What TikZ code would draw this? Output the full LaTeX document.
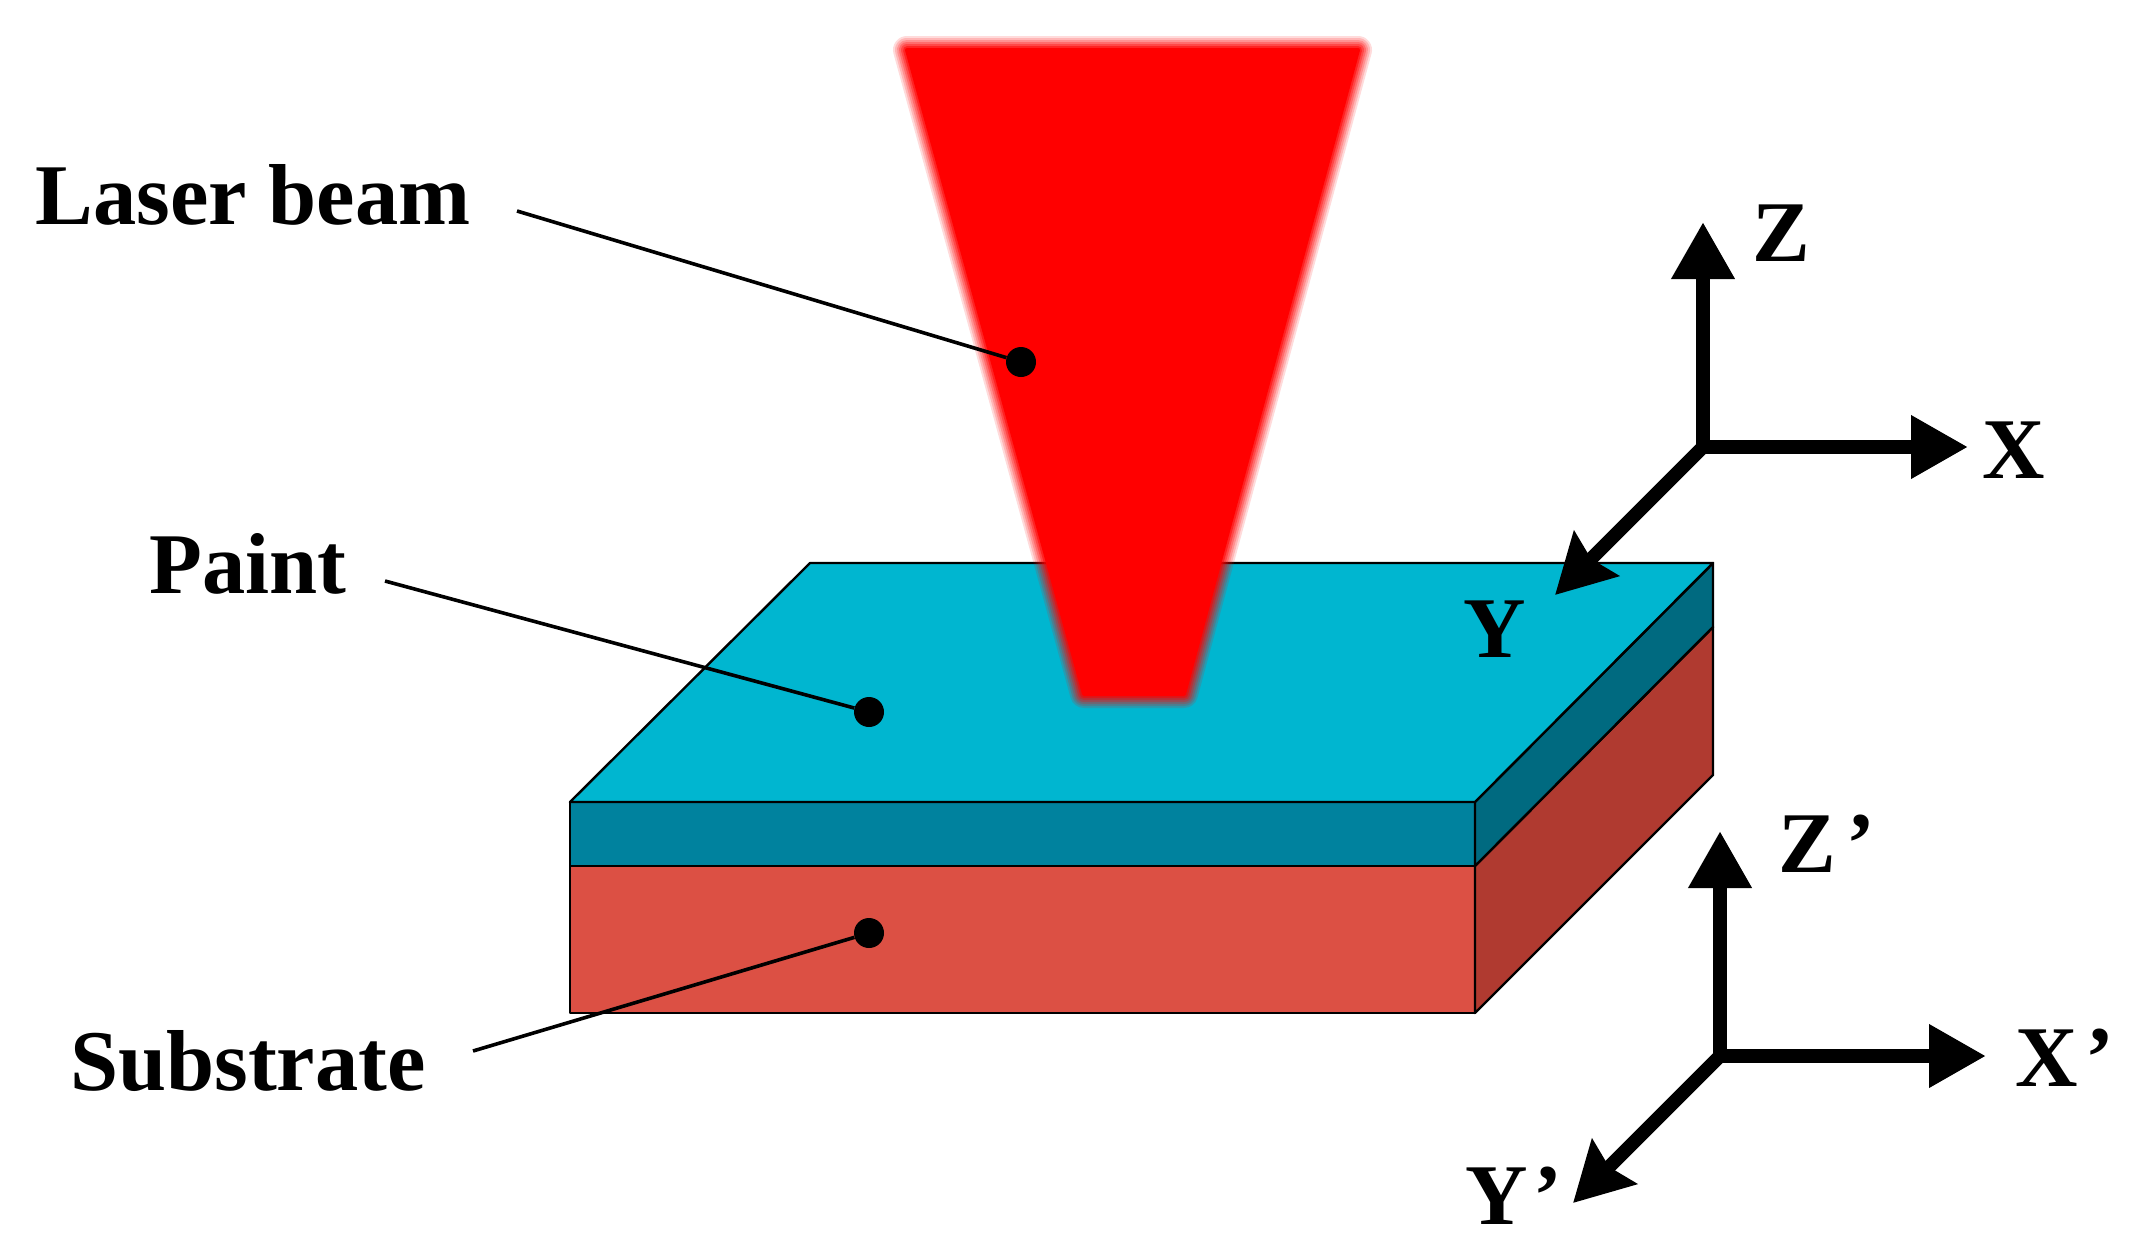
\documentclass[tikz,border=0pt]{standalone}
\usepackage{fontspec}
\setmainfont{Liberation Serif}
\usetikzlibrary{arrows.meta}
\definecolor{paintTop}{HTML}{00B6D0}
\definecolor{paintFront}{HTML}{00829E}
\definecolor{paintSide}{HTML}{006A80}
\definecolor{subFront}{HTML}{DC5044}
\definecolor{subSide}{HTML}{B03A30}
\tikzset{
  lbl/.style={anchor=base,inner sep=0pt,font=\fontsize{86.5}{87}\selectfont\bfseries,text=black},
  face/.style={draw=black,line width=2.4pt,line join=round},
  leader/.style={draw=black,line width=3.6pt},
  dotmark/.style={circle,fill=black,inner sep=0pt,minimum size=30pt},
  axisline/.style={draw=black,line width=13.5pt},
  axisV/.style={axisline,-{Triangle[length=57pt,width=60pt]}},
  axisD/.style={axisline,-{Stealth[length=58pt,width=62pt,inset=7pt]}},
  halo/.style={draw=red,draw opacity=#1,line join=round},
}
\begin{document}
\begin{tikzpicture}[x=1pt,y=-1pt]
\useasboundingbox[fill=white] (0,0) rectangle (2132,1256);
% slab
\coordinate (a) at (570,802);
\coordinate (b) at (1475,802);
\coordinate (c) at (1713,563);
\coordinate (d) at (810,563);
\coordinate (e) at (570,866);
\coordinate (f) at (1475,866);
\coordinate (g) at (1713,627);
\coordinate (h) at (570,1013);
\coordinate (i) at (1475,1013);
\coordinate (j) at (1713,775);
\path[face,fill=subFront] (e) -- (f) -- (i) -- (h) -- cycle;
\path[face,fill=subSide] (f) -- (g) -- (j) -- (i) -- cycle;
\path[face,fill=paintFront] (a) -- (b) -- (f) -- (e) -- cycle;
\path[face,fill=paintSide] (b) -- (c) -- (g) -- (f) -- cycle;
\path[face,fill=paintTop] (a) -- (b) -- (c) -- (d) -- cycle;
% beam with soft edge
\coordinate (b1) at (907,50);
\coordinate (b2) at (1358,50);
\coordinate (b3) at (1184,694);
\coordinate (b4) at (1084,694);
\foreach \w/\a in {28/0.14,24/0.17,20/0.2,16/0.25,12/0.33,8/0.5,4/1}{
  \path[halo=\a,line width=\w pt] (b1) -- (b2) -- (b3) -- (b4) -- cycle;
}
\path[fill=red] (b1) -- (b2) -- (b3) -- (b4) -- cycle;
% labels and leaders
\node[lbl] (laser) at (253,224) {Laser beam};
\node[lbl] (paint) at (248,593) {Paint};
\node[lbl] (substrate) at (248,1090) {Substrate};
\coordinate (ls) at (517,211);
\coordinate (ps) at (385,581);
\coordinate (ss) at (473,1051);
\node[dotmark] (ld) at (1021,362) {};
\node[dotmark] (pd) at (869,712) {};
\node[dotmark] (sd) at (869,933) {};
\draw[leader] (ls) -- (ld);
\draw[leader] (ps) -- (pd);
\draw[leader] (ss) -- (sd);
% axes
\coordinate (o) at (1703,447);
\coordinate (zt) at (1703,222);
\coordinate (xt) at (1968,447);
\coordinate (yt) at (1555,595);
\draw[axisV] (o) -- (zt);
\draw[axisV] (o) -- (xt);
\draw[axisD] (o) -- (yt);
\node[lbl] (zl) at (1781,261) {Z};
\node[lbl] (xl) at (2014,478) {X};
\node[lbl] (yl) at (1495,657) {Y};
\coordinate (op) at (1720,1056);
\coordinate (ztp) at (1720,831);
\coordinate (xtp) at (1986,1056);
\coordinate (ytp) at (1573,1203);
\draw[axisV] (op) -- (ztp);
\draw[axisV] (op) -- (xtp);
\draw[axisD] (op) -- (ytp);
\node[lbl] (zpl) at (1827,872) {Z\kern10pt’};
\node[lbl] (xpl) at (2065,1086) {X\kern7pt’};
\node[lbl] (ypl) at (1514,1224) {Y\kern5pt’};
\end{tikzpicture}
\end{document}
